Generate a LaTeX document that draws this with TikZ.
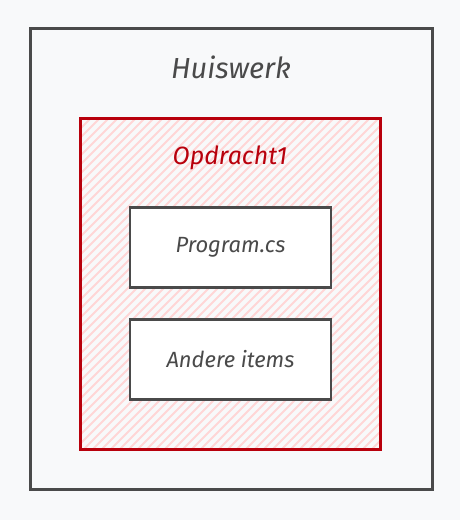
\documentclass[tikz,border=0pt]{standalone}
\usepackage{fontspec}
\setmainfont{Fira Sans}
\usepackage{tikz}
\usetikzlibrary{positioning}

\definecolor{achtergrond}{HTML}{F8F9FA}
\definecolor{grijs}{HTML}{4A4A4A}
\definecolor{rood}{HTML}{B8000C}
\definecolor{roze}{HTML}{FFD6D6}

\begin{document}
\begin{tikzpicture}
[x=1pt,y=1pt, empt node/.style={inner sep=0pt,outer sep=0pt,font=\itshape},
  outer node/.style={rectangle,draw=grijs,line width=3pt,minimum width=402pt,
    minimum height=461pt, inner sep=0pt, outer sep=0pt},
  red node/.style={rectangle,draw=rood,line width=3pt,minimum width=300pt,
    minimum height=331pt, inner sep=0pt, outer sep=0pt},
  file node/.style={rectangle,draw=grijs,fill=white,line width=2.6pt,minimum width=201pt,
    minimum height=80pt, inner sep=0pt, outer sep=0pt,font=\itshape\fontsize{22}{26}\selectfont,text=grijs},
  hatch/.style={roze,line width=1.8pt}]

    \useasboundingbox[fill=achtergrond] (0,0) rectangle (460,520);

    \node [outer node] (huiswerk) at (231,260.5) {};
    \node [empt node,text=grijs,font=\itshape\fontsize{29}{34}\selectfont] (huiswerkt) [below=27pt of huiswerk.north] {Huiswerk};

    % arcering van opdracht1
    \begin{scope}
      \clip (80,70) rectangle (380,401);
      \foreach \i in {-340,-331,...,380}
        \draw[hatch] (\i,70) -- ++(340,340);
    \end{scope}
    \node [red node] (opdracht) at (230,235.5) {};
    \node [empt node,text=rood,font=\itshape\fontsize{25}{30}\selectfont] (opdrachtt) [below=27pt of opdracht.north] {Opdracht1};

    \node [file node] (program) at (230.5,272.5) {Program.cs};
    \node [file node] (andere) [below=32pt of program] {Andere items};
\end{tikzpicture}
\end{document}
